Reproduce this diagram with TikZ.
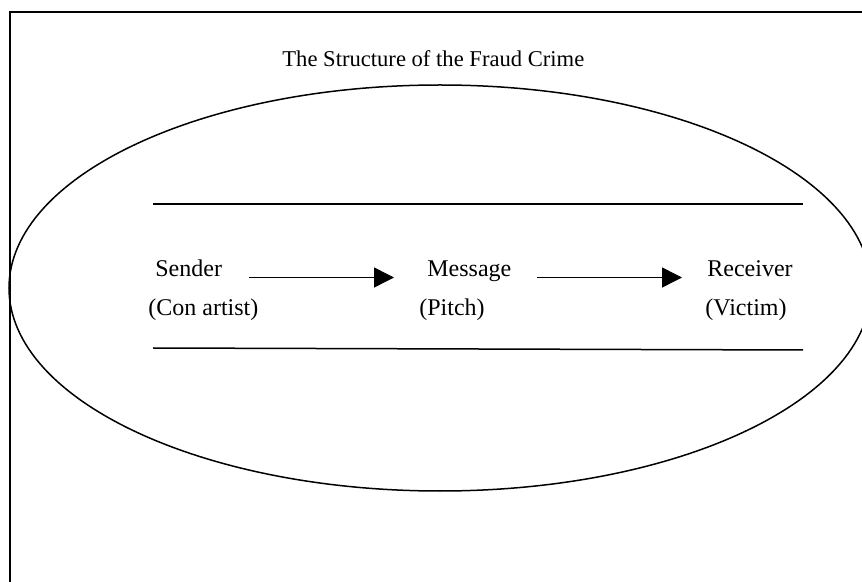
\documentclass[tikz,border=0pt]{standalone}
\usepackage{fontspec}
\setmainfont{Liberation Serif}
\usetikzlibrary{arrows.meta,shapes.geometric}
\begin{document}
\begin{tikzpicture}[x=0.5pt,y=-0.5pt,
  lbl/.style={anchor=base west,inner sep=0pt,font=\fontsize{12pt}{14pt}\selectfont},
  thinline/.style={line width=0.75pt},
  flow/.style={line width=0.75pt,-{Triangle[length=10pt,width=10pt]}}]
\useasboundingbox (0,0) rectangle (862,582);
\draw[line width=1pt] (10,600) -- (10,12) -- (880,12);
\node[draw,thinline,ellipse,minimum width=431pt,minimum height=203pt,inner sep=0pt] (oval) at (440,288) {};
\node[lbl,font=\fontsize{11.3pt}{13pt}\selectfont] (title) at (282,67) {The Structure of the Fraud Crime};
\coordinate (t1) at (153,204);
\coordinate (t2) at (803,204);
\coordinate (b1) at (153,348);
\coordinate (b2) at (803,350);
\draw[thinline] (t1) -- (t2);
\draw[thinline] (b1) -- (b2);
\node[lbl] (sender) at (155,277) {Sender};
\node[lbl] (sendersub) at (148,316) {(Con artist)};
\node[lbl] (message) at (427,277) {Message};
\node[lbl] (messagesub) at (419,316) {(Pitch)};
\node[lbl] (receiver) at (707,277) {Receiver};
\node[lbl] (receiversub) at (705,316) {(Victim)};
\coordinate (a1s) at (249,277.5);
\coordinate (a1e) at (394,277.5);
\coordinate (a2s) at (537,277.5);
\coordinate (a2e) at (682,277.5);
\draw[flow] (a1s) -- (a1e);
\draw[flow] (a2s) -- (a2e);
\end{tikzpicture}
\end{document}
